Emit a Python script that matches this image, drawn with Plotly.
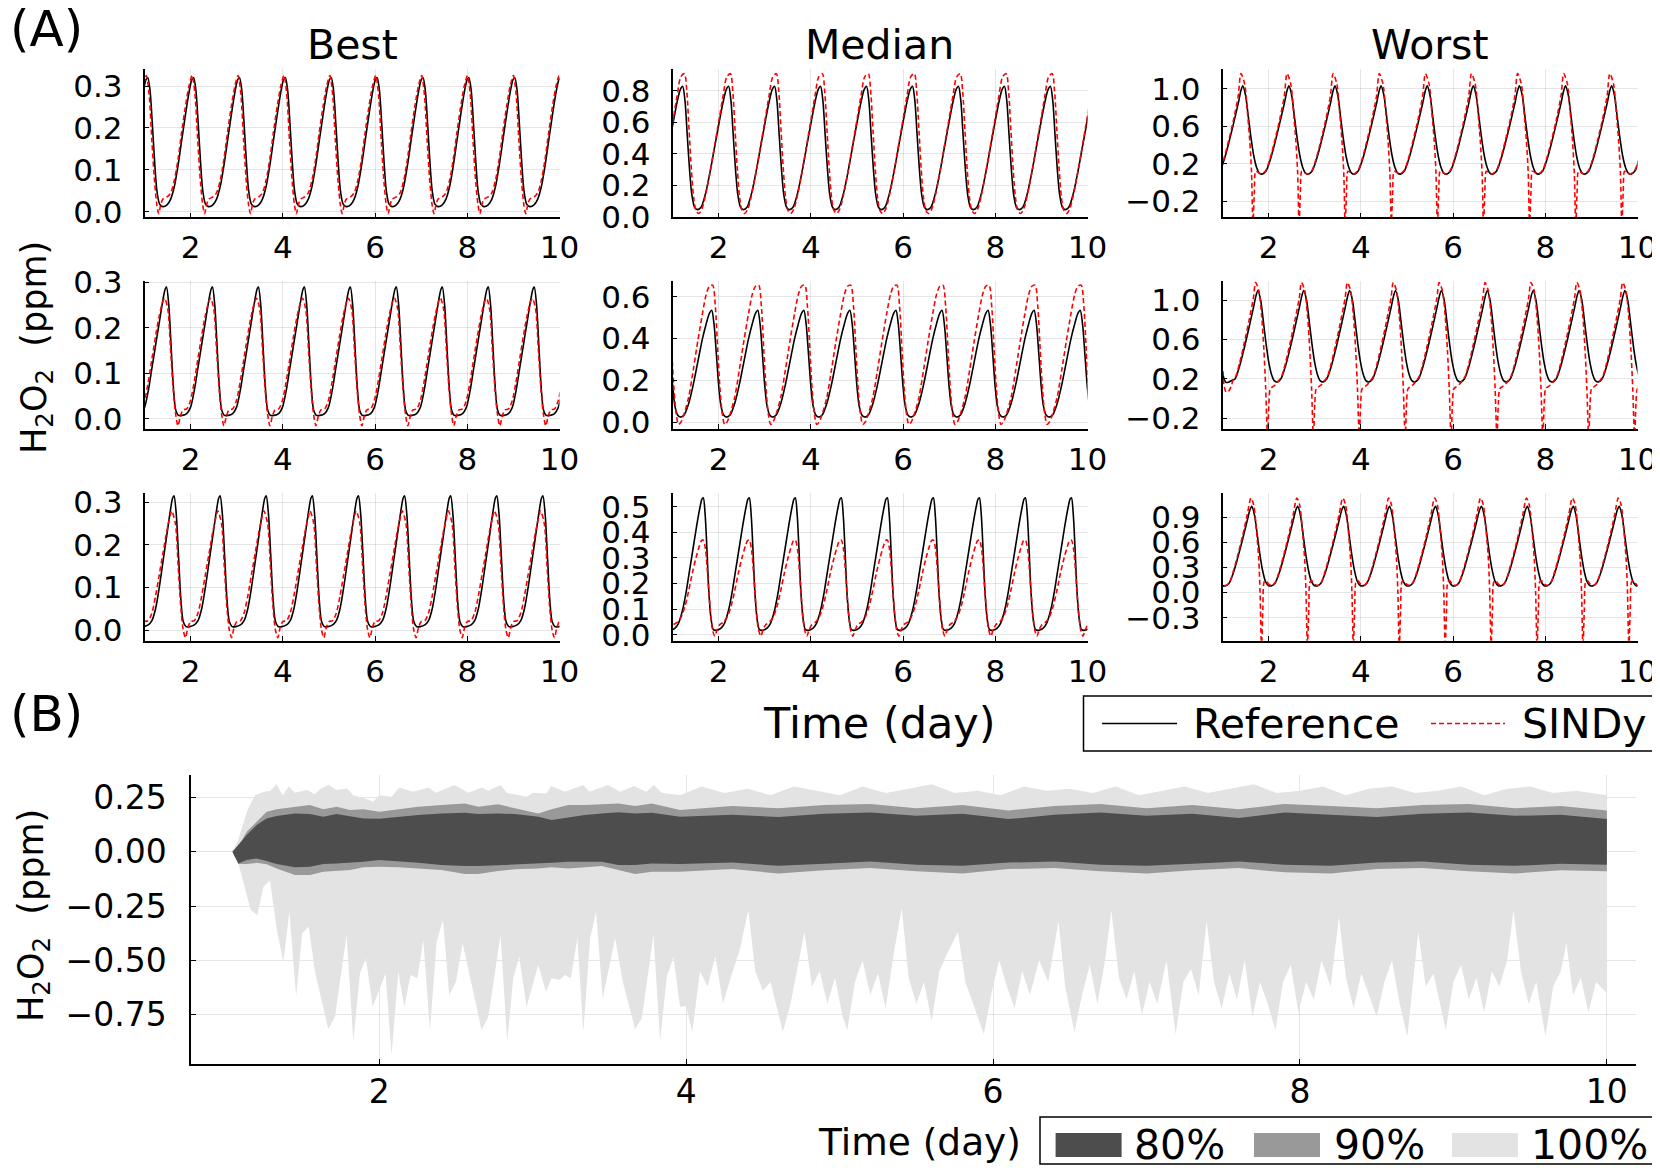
import plotly.graph_objects as go

SCREEN_W, SCREEN_H = 1660, 1173
PAGE_OFFSET = 8  # the page places the figure 8 px in from the top-left corner
W, H = SCREEN_W - PAGE_OFFSET, SCREEN_H - 2 * PAGE_OFFSET

# ---------------- panel (A): one cycle read per series, phase 0 = reference peak ----------------
# Best
BEST1 = dict(period=0.995, peak=1.07,
             ref_p=[0, 0.05, 0.1, 0.15, 0.2, 0.26, 0.33, 0.42, 0.5, 0.58, 0.66, 0.74, 0.82, 0.9, 0.96],
             ref_v=[0.32, 0.29, 0.21, 0.12, 0.05, 0.018, 0.012, 0.016, 0.03, 0.06, 0.11, 0.17, 0.23, 0.285, 0.315],
             sin_p=[-0.03, 0.03, 0.09, 0.15, 0.2, 0.24, 0.28, 0.33, 0.42, 0.5, 0.58, 0.66, 0.74, 0.82, 0.9],
             sin_v=[0.325, 0.28, 0.17, 0.07, 0.015, -0.005, 0.015, 0.03, 0.035, 0.045, 0.075, 0.125, 0.19, 0.25, 0.3])
BEST2 = dict(period=0.997, peak=1.477,
             ref_p=[0, 0.05, 0.1, 0.15, 0.2, 0.26, 0.34, 0.44, 0.52, 0.6, 0.68, 0.76, 0.84, 0.92, 0.97],
             ref_v=[0.29, 0.25, 0.16, 0.07, 0.02, 0.008, 0.008, 0.012, 0.025, 0.06, 0.11, 0.16, 0.21, 0.26, 0.285],
             sin_p=[-0.04, 0.03, 0.09, 0.15, 0.2, 0.25, 0.3, 0.36, 0.44, 0.52, 0.6, 0.68, 0.76, 0.84, 0.92],
             sin_v=[0.265, 0.24, 0.15, 0.06, 0.01, -0.015, 0.005, 0.02, 0.022, 0.04, 0.08, 0.13, 0.18, 0.225, 0.258])
BEST3 = dict(period=1.0, peak=1.64,
             ref_p=[0, 0.05, 0.1, 0.15, 0.2, 0.26, 0.34, 0.44, 0.52, 0.6, 0.68, 0.76, 0.84, 0.92, 0.97],
             ref_v=[0.315, 0.27, 0.17, 0.07, 0.02, 0.008, 0.008, 0.012, 0.022, 0.05, 0.1, 0.16, 0.22, 0.28, 0.31],
             sin_p=[-0.05, 0.03, 0.09, 0.15, 0.2, 0.25, 0.3, 0.36, 0.44, 0.52, 0.6, 0.68, 0.76, 0.84, 0.92],
             sin_v=[0.28, 0.25, 0.15, 0.05, 0.0, -0.018, 0.005, 0.02, 0.022, 0.04, 0.08, 0.13, 0.18, 0.23, 0.27])
# Median
MED1 = dict(period=0.997, peak=1.22,
            ref_p=[0, 0.05, 0.1, 0.15, 0.2, 0.26, 0.32, 0.4, 0.5, 0.6, 0.7, 0.8, 0.88, 0.95],
            ref_v=[0.83, 0.74, 0.52, 0.3, 0.14, 0.06, 0.045, 0.06, 0.15, 0.29, 0.45, 0.61, 0.73, 0.81],
            sin_p=[0.04, 0.09, 0.14, 0.19, 0.24, 0.29, 0.35, 0.42, 0.5, 0.6, 0.7, 0.8, 0.88, 0.96],
            sin_v=[0.91, 0.8, 0.55, 0.3, 0.12, 0.04, 0.02, 0.05, 0.14, 0.29, 0.46, 0.63, 0.77, 0.89])
MED2 = dict(period=0.999, peak=1.85,
            ref_p=[0, 0.05, 0.1, 0.15, 0.2, 0.26, 0.32, 0.4, 0.5, 0.6, 0.7, 0.8, 0.88, 0.95],
            ref_v=[0.535, 0.47, 0.33, 0.18, 0.08, 0.035, 0.025, 0.035, 0.09, 0.18, 0.29, 0.4, 0.47, 0.52],
            sin_p=[0.02, 0.08, 0.13, 0.18, 0.23, 0.28, 0.33, 0.4, 0.5, 0.6, 0.7, 0.8, 0.88, 0.95],
            sin_v=[0.655, 0.55, 0.35, 0.16, 0.04, -0.01, 0.0, 0.04, 0.12, 0.25, 0.39, 0.52, 0.61, 0.65])
MED3 = dict(period=0.998, peak=1.668,
            ref_p=[0, 0.04, 0.08, 0.12, 0.17, 0.22, 0.3, 0.38, 0.46, 0.54, 0.62, 0.7, 0.78, 0.86, 0.93, 0.97],
            ref_v=[0.535, 0.47, 0.33, 0.17, 0.06, 0.02, 0.018, 0.025, 0.045, 0.09, 0.16, 0.25, 0.34, 0.43, 0.5, 0.53],
            sin_p=[0.0, 0.05, 0.1, 0.15, 0.2, 0.25, 0.3, 0.36, 0.44, 0.52, 0.6, 0.68, 0.76, 0.84, 0.92, 0.96],
            sin_v=[0.37, 0.33, 0.22, 0.1, 0.02, -0.005, 0.02, 0.04, 0.05, 0.07, 0.11, 0.17, 0.24, 0.3, 0.35, 0.368])
# Worst
WOR1 = dict(period=1.0, peak=1.44,
            ref_p=[0, 0.06, 0.12, 0.18, 0.24, 0.3, 0.36, 0.42, 0.5, 0.6, 0.7, 0.8, 0.9, 0.96],
            ref_v=[1.03, 0.93, 0.7, 0.47, 0.28, 0.16, 0.1, 0.09, 0.12, 0.25, 0.43, 0.63, 0.84, 0.98],
            sin_p=[-0.04, 0.04, 0.1, 0.15, 0.19, 0.22, 0.25, 0.28, 0.33, 0.4, 0.5, 0.6, 0.7, 0.8, 0.9],
            sin_v=[1.16, 1.05, 0.75, 0.45, 0.1, -0.45, -0.1, 0.12, 0.11, 0.09, 0.13, 0.27, 0.46, 0.67, 0.92])
WOR2 = dict(period=0.995, peak=1.768,
            ref_p=[0, 0.06, 0.12, 0.18, 0.24, 0.3, 0.36, 0.42, 0.5, 0.6, 0.7, 0.8, 0.9, 0.96],
            ref_v=[1.1, 1.0, 0.78, 0.55, 0.36, 0.24, 0.18, 0.17, 0.2, 0.33, 0.51, 0.71, 0.92, 1.05],
            sin_p=[-0.05, 0.02, 0.08, 0.13, 0.17, 0.21, 0.24, 0.27, 0.32, 0.38, 0.45, 0.52, 0.6, 0.7, 0.8, 0.9],
            sin_v=[1.18, 1.1, 0.85, 0.5, 0.1, -0.4, -0.05, 0.1, 0.12, 0.14, 0.18, 0.23, 0.36, 0.56, 0.78, 1.02],
            lead_t=[1.0, 1.04, 1.08, 1.14, 1.2],
            lead_ref=[0.28, 0.19, 0.165, 0.17, 0.185],
            lead_sin=[0.28, 0.12, 0.065, 0.08, 0.14])
WOR3 = dict(period=0.996, peak=1.636,
            ref_p=[0, 0.06, 0.12, 0.18, 0.24, 0.3, 0.36, 0.42, 0.5, 0.6, 0.7, 0.8, 0.9, 0.96],
            ref_v=[1.03, 0.92, 0.68, 0.44, 0.25, 0.13, 0.085, 0.08, 0.11, 0.24, 0.43, 0.64, 0.86, 0.99],
            sin_p=[-0.02, 0.04, 0.1, 0.15, 0.18, 0.21, 0.24, 0.27, 0.31, 0.37, 0.44, 0.52, 0.6, 0.7, 0.8, 0.9],
            sin_v=[1.13, 1.05, 0.75, 0.4, 0.0, -0.65, -0.2, 0.13, 0.14, 0.1, 0.085, 0.13, 0.26, 0.46, 0.68, 0.93])

GRID = [[BEST1, MED1, WOR1], [BEST2, MED2, WOR2], [BEST3, MED3, WOR3]]
COL_TITLES = ["Best", "Median", "Worst"]

Y_RANGES = [[(-0.0135, 0.34), (-0.004, 0.938), (-0.37, 1.206)],
            [(-0.022, 0.303), (-0.032, 0.675), (-0.309, 1.196)],
            [(-0.025, 0.3225), (-0.023, 0.555), (-0.575, 1.194)]]
Y_TICKS = [[[0, 0.1, 0.2, 0.3], [0, 0.2, 0.4, 0.6, 0.8], [-0.2, 0.2, 0.6, 1.0]],
           [[0, 0.1, 0.2, 0.3], [0, 0.2, 0.4, 0.6], [-0.2, 0.2, 0.6, 1.0]],
           [[0, 0.1, 0.2, 0.3], [0, 0.1, 0.2, 0.3, 0.4, 0.5], [-0.3, 0, 0.3, 0.6, 0.9]]]
X_TICKS = [2, 4, 6, 8, 10]

# ---------------- panel (B): envelopes of SINDy - reference error ----------------
U100_T = [1.043, 1.08, 1.14, 1.19, 1.25, 1.29, 1.33, 1.37, 1.41, 1.45, 1.53, 1.58, 1.62, 1.67, 1.72, 1.79, 1.83,
          1.91, 1.96, 2.0, 2.08, 2.13, 2.22, 2.32, 2.37, 2.49, 2.58, 2.67, 2.71, 2.79, 2.83, 2.96, 3.0, 3.09,
          3.12, 3.21, 3.33, 3.37, 3.49, 3.57, 3.66, 3.74, 3.79, 3.84, 3.96,
          4.1, 4.25, 4.4, 4.55, 4.7, 4.85, 5.0, 5.15, 5.3, 5.45, 5.6, 5.75, 5.9, 6.05, 6.2, 6.35, 6.5, 6.65,
          6.8, 6.95, 7.1, 7.25, 7.4, 7.55, 7.7, 7.85, 8.0, 8.15, 8.3, 8.45, 8.6, 8.75, 8.9, 9.05, 9.2, 9.35,
          9.5, 9.65, 9.8, 10.0]
U100_V = [0.0, 0.053, 0.19, 0.26, 0.276, 0.28, 0.311, 0.26, 0.30, 0.271, 0.284, 0.264, 0.291, 0.307, 0.284,
          0.291, 0.26, 0.245, 0.23, 0.26, 0.253, 0.296, 0.276, 0.296, 0.271, 0.307, 0.271, 0.296, 0.28, 0.307,
          0.271, 0.253, 0.271, 0.268, 0.302, 0.276, 0.307, 0.276, 0.307, 0.276, 0.302, 0.276, 0.307, 0.271, 0.26,
          0.30, 0.27, 0.29, 0.26, 0.30, 0.28, 0.26, 0.30, 0.27, 0.29, 0.31, 0.27, 0.28, 0.26, 0.30, 0.28,
          0.29, 0.27, 0.30, 0.26, 0.28, 0.30, 0.27, 0.29, 0.31, 0.27, 0.28, 0.30, 0.26, 0.29, 0.30, 0.27,
          0.28, 0.30, 0.26, 0.29, 0.30, 0.27, 0.28, 0.26]
L100_T = [1.043, 1.082, 1.115, 1.162, 1.205, 1.245, 1.288, 1.332, 1.375, 1.414, 1.458, 1.497, 1.54, 1.581,
          1.668, 1.711, 1.787, 1.831, 1.874, 1.913, 1.957, 2.041, 2.08, 2.124, 2.163, 2.204, 2.248, 2.287,
          2.33, 2.374, 2.415, 2.456, 2.5, 2.543, 2.667, 2.711, 2.79, 2.834, 2.873, 2.912, 2.96, 3.036, 3.086,
          3.123, 3.173, 3.21, 3.248, 3.291, 3.33, 3.374, 3.413, 3.456, 3.537, 3.587, 3.667, 3.711, 3.787,
          3.83, 3.874, 3.917, 3.96,
          4.0, 4.04, 4.09, 4.14, 4.19, 4.24, 4.29, 4.35, 4.405, 4.45, 4.5, 4.55, 4.6, 4.63, 4.68, 4.73, 4.771,
          4.82, 4.87, 4.92, 4.97, 5.02, 5.05, 5.1, 5.15, 5.2, 5.25, 5.3, 5.35, 5.405, 5.45, 5.5, 5.55, 5.6,
          5.65, 5.7, 5.771, 5.82, 5.87, 5.94, 5.99, 6.04, 6.09, 6.14, 6.19, 6.24, 6.3, 6.36, 6.426, 6.47, 6.53,
          6.58, 6.63, 6.68, 6.73, 6.771, 6.82, 6.87, 6.92, 6.97, 7.02, 7.07, 7.13, 7.19, 7.24, 7.29, 7.34,
          7.392, 7.44, 7.49, 7.54, 7.59, 7.64, 7.69, 7.74, 7.79, 7.84, 7.89, 7.94, 7.99, 8.04, 8.09, 8.14, 8.2,
          8.254, 8.3, 8.35, 8.4, 8.45, 8.5, 8.55, 8.6, 8.65, 8.7, 8.771, 8.82, 8.87, 8.92, 8.95, 9.0, 9.05,
          9.1, 9.15, 9.2, 9.25, 9.3, 9.35, 9.392, 9.44, 9.49, 9.54, 9.6, 9.65, 9.7, 9.737, 9.78, 9.83, 9.88,
          9.93, 10.0]
L100_V = [0.0, -0.053, -0.146, -0.268, -0.291, -0.161, -0.133, -0.36, -0.506, -0.276, -0.667, -0.376, -0.345,
          -0.552, -0.817, -0.759, -0.383, -0.874, -0.56, -0.49, -0.713, -0.56, -0.936, -0.552, -0.713, -0.567,
          -0.582, -0.406, -0.823, -0.414, -0.314, -0.659, -0.598, -0.421, -0.82, -0.759, -0.383, -0.874, -0.582,
          -0.483, -0.713, -0.521, -0.644, -0.582, -0.59, -0.567, -0.582, -0.398, -0.828, -0.398, -0.276, -0.675,
          -0.398, -0.598, -0.817, -0.766, -0.383, -0.869, -0.575, -0.483, -0.713,
          -0.71, -0.83, -0.55, -0.62, -0.48, -0.7, -0.58, -0.45, -0.27, -0.55, -0.64, -0.6, -0.74, -0.83, -0.7,
          -0.52, -0.37, -0.62, -0.55, -0.7, -0.58, -0.76, -0.82, -0.6, -0.5, -0.66, -0.56, -0.72, -0.48, -0.26,
          -0.58, -0.7, -0.6, -0.78, -0.55, -0.47, -0.37, -0.6, -0.7, -0.84, -0.65, -0.5, -0.62, -0.72, -0.55,
          -0.66, -0.5, -0.6, -0.32, -0.62, -0.83, -0.66, -0.52, -0.7, -0.5, -0.27, -0.58, -0.68, -0.55, -0.75,
          -0.6, -0.7, -0.5, -0.84, -0.6, -0.54, -0.66, -0.32, -0.6, -0.72, -0.56, -0.68, -0.5, -0.76, -0.6,
          -0.7, -0.82, -0.6, -0.52, -0.74, -0.6, -0.68, -0.5, -0.62, -0.3, -0.58, -0.72, -0.56, -0.66, -0.76,
          -0.6, -0.5, -0.7, -0.85, -0.37, -0.62, -0.56, -0.72, -0.82, -0.6, -0.52, -0.68, -0.58, -0.74, -0.55,
          -0.62, -0.5, -0.27, -0.55, -0.7, -0.6, -0.85, -0.62, -0.55, -0.42, -0.66, -0.58, -0.74, -0.6, -0.65]
U90_T = [1.043, 1.082, 1.136, 1.201, 1.266, 1.331, 1.45, 1.548, 1.635, 1.722, 1.809, 1.896, 2.0, 2.124,
         2.254, 2.406, 2.558, 2.645, 2.775, 2.884, 3.036, 3.123, 3.232, 3.34, 3.449, 3.558, 3.667, 3.776, 3.96,
         4.3, 4.6, 4.9, 5.2, 5.5, 5.8, 6.1, 6.4, 6.7, 7.0, 7.3, 7.6, 7.9, 8.2, 8.5, 8.8, 9.1, 9.4, 9.7, 10.0]
U90_V = [0.0, 0.023, 0.092, 0.138, 0.184, 0.195, 0.207, 0.215, 0.195, 0.207, 0.192, 0.195, 0.184, 0.195,
         0.207, 0.215, 0.222, 0.207, 0.218, 0.2, 0.176, 0.195, 0.215, 0.215, 0.219, 0.222, 0.21, 0.222, 0.192,
         0.21, 0.2, 0.215, 0.22, 0.2, 0.215, 0.19, 0.21, 0.22, 0.2, 0.215, 0.195, 0.22, 0.21, 0.2, 0.215,
         0.22, 0.2, 0.21, 0.19]
L90_T = U90_T
L90_V = [0.0, -0.057, -0.057, -0.051, -0.058, -0.077, -0.107, -0.107, -0.092, -0.087, -0.084, -0.072, -0.069,
         -0.072, -0.077, -0.084, -0.103, -0.103, -0.089, -0.081, -0.077, -0.072, -0.077, -0.072, -0.066, -0.084,
         -0.103, -0.092, -0.092,
         -0.08, -0.1, -0.085, -0.075, -0.09, -0.1, -0.08, -0.075, -0.09, -0.1, -0.085, -0.075, -0.095, -0.1,
         -0.08, -0.075, -0.09, -0.1, -0.085, -0.09]
U80_T = U90_T
U80_V = [0.0, 0.031, 0.077, 0.123, 0.153, 0.164, 0.176, 0.173, 0.161, 0.173, 0.164, 0.153, 0.152, 0.161,
         0.169, 0.176, 0.179, 0.173, 0.176, 0.173, 0.161, 0.146, 0.158, 0.169, 0.176, 0.181, 0.176, 0.179, 0.161,
         0.17, 0.16, 0.175, 0.18, 0.165, 0.175, 0.15, 0.17, 0.18, 0.165, 0.175, 0.155, 0.18, 0.17, 0.16, 0.175,
         0.18, 0.165, 0.17, 0.15]
L80_T = U90_T
L80_V = [0.0, -0.054, -0.038, -0.031, -0.043, -0.057, -0.072, -0.069, -0.057, -0.054, -0.051, -0.046, -0.038,
         -0.046, -0.051, -0.061, -0.066, -0.066, -0.061, -0.057, -0.054, -0.051, -0.046, -0.046, -0.046, -0.061,
         -0.061, -0.054, -0.057,
         -0.05, -0.065, -0.055, -0.045, -0.06, -0.065, -0.05, -0.045, -0.06, -0.065, -0.055, -0.045, -0.06,
         -0.065, -0.05, -0.045, -0.06, -0.065, -0.055, -0.06]

BAND_NAMES = ["100%", "90%", "80%"]
BAND_COLORS = ["#e3e3e3", "#999999", "#4d4d4d"]

# ---------------- geometry (pixels, as seen on screen) ----------------
COL_L = [144.5, 672.5, 1222.5]
COL_R = [559.5, 1087.5, 1637.5]
ROW_T = [69.3, 281.0, 492.7]
ROW_B = [217.3, 429.0, 640.7]
B_BOX = (191, 1636, 775, 1064)

FONT = "DejaVu Sans"
GRID_C = "rgba(0,0,0,0.10)"


def px(x):
    return (x - PAGE_OFFSET) / W


def py(y):
    return 1 - (y - PAGE_OFFSET) / H


def tile(d, which):
    phase, vals = d[which + "_p"], d[which + "_v"]
    xs, ys = [], []
    lead = d.get("lead_t")
    if lead:
        xs += lead
        ys += d["lead_" + ("ref" if which == "ref" else "sin")]
    t_min = lead[-1] if lead else 0.8
    for k in range(-2, 11):
        for p, v in zip(phase, vals):
            t = d["peak"] + (k + p) * d["period"]
            if t_min < t <= 10.2:
                xs.append(t)
                ys.append(v)
    return xs, ys


def fmt(v, nd):
    s = f"{abs(v):.{nd}f}"
    return ("\u2212" + s) if v < 0 else s


fig = go.Figure()
layout = {}

n = 0
for r in range(3):
    for c in range(3):
        n += 1
        d = GRID[r][c]
        xa, ya = f"x{n}", f"y{n}"
        rx, ry = tile(d, "ref")
        sx, sy = tile(d, "sin")
        fig.add_trace(go.Scatter(x=rx, y=ry, mode="lines", xaxis=xa, yaxis=ya, showlegend=False,
                                 line=dict(color="black", width=1.6, shape="spline", smoothing=0.8)))
        fig.add_trace(go.Scatter(x=sx, y=sy, mode="lines", xaxis=xa, yaxis=ya, showlegend=False,
                                 line=dict(color="#ff0000", width=1.6, dash="5px,3px", shape="spline",
                                           smoothing=0.8)))
        yt = Y_TICKS[r][c]
        layout[f"xaxis{n}"] = dict(domain=[px(COL_L[c]), px(COL_R[c])], anchor=ya, range=[1, 10],
                                   tickvals=X_TICKS, ticktext=[str(v) for v in X_TICKS])
        layout[f"yaxis{n}"] = dict(domain=[py(ROW_B[r]), py(ROW_T[r])], anchor=xa, range=list(Y_RANGES[r][c]),
                                   tickvals=yt, ticktext=[fmt(v, 1) for v in yt])

# panel B
n += 1
xa, ya = f"x{n}", f"y{n}"
bands = [(U100_T, U100_V, L100_T, L100_V), (U90_T, U90_V, L90_T, L90_V), (U80_T, U80_V, L80_T, L80_V)]
for (ut, uv, lt, lv), name, col in zip(bands, BAND_NAMES, BAND_COLORS):
    fig.add_trace(go.Scatter(x=list(ut) + list(lt)[::-1], y=list(uv) + list(lv)[::-1], mode="lines",
                             fill="toself", fillcolor=col, line=dict(width=0, color=col), name=name,
                             xaxis=xa, yaxis=ya, showlegend=False, hoverinfo="skip"))
bt = [0.25, 0, -0.25, -0.5, -0.75]
layout[f"xaxis{n}"] = dict(domain=[px(B_BOX[0]), px(B_BOX[1])], anchor=ya, range=[0.773, 10.19],
                           tickvals=X_TICKS, ticktext=[str(v) for v in X_TICKS],
                           tickfont=dict(size=33), ticklabelstandoff=-2)
layout[f"yaxis{n}"] = dict(domain=[py(B_BOX[3]), py(B_BOX[2])], anchor=xa, range=[-0.977, 0.353],
                           tickvals=bt, ticktext=[fmt(v, 2) for v in bt], tickfont=dict(size=33),
                           ticklabelstandoff=16)

for k, v in layout.items():
    base = dict(showline=True, linecolor="black", linewidth=1.5, mirror=False, ticks="inside", ticklen=5,
                tickcolor="black", tickwidth=1, showgrid=True, gridcolor=GRID_C, gridwidth=1, zeroline=False,
                fixedrange=True, automargin=False, ticklabeloverflow="allow")
    if k.startswith("x"):
        base.update(tickfont=dict(size=31), ticklabelstandoff=2)
    else:
        base.update(tickfont=dict(size=31), ticklabelstandoff=14)
    base.update(v)
    layout[k] = base

ann = []
for c, t in enumerate(COL_TITLES):
    ann.append(dict(text=t, x=px((COL_L[c] + COL_R[c]) / 2), y=py(45), font=dict(size=41)))
ann += [
    dict(text="(A)", x=px(8), y=py(29), xanchor="left", font=dict(size=50)),
    dict(text="(B)", x=px(8), y=py(714), xanchor="left", font=dict(size=50)),
    dict(text="Time (day)", x=px(879), y=py(723), font=dict(size=43)),
    dict(text="Time (day)", x=px(919), y=py(1142), font=dict(size=37.5)),
    dict(text="H<sub>2</sub>O<sub>2</sub>  (ppm)", x=px(36), y=py(348), textangle=-90, font=dict(size=35)),
    dict(text="H<sub>2</sub>O<sub>2</sub>  (ppm)", x=px(33), y=py(916), textangle=-90, font=dict(size=35)),
    dict(text="Reference", x=px(1191), y=py(724), xanchor="left", font=dict(size=41)),
    dict(text="SINDy", x=px(1520), y=py(724), xanchor="left", font=dict(size=41)),
    dict(text="80%", x=px(1132), y=py(1145), xanchor="left", font=dict(size=41)),
    dict(text="90%", x=px(1332), y=py(1145), xanchor="left", font=dict(size=41)),
    dict(text="100%", x=px(1529), y=py(1145), xanchor="left", font=dict(size=41)),
]
for a in ann:
    a.setdefault("xanchor", "center")
    a.update(xref="paper", yref="paper", yanchor="middle", showarrow=False)
    a["font"].update(family=FONT, color="black")

B_EDGE = SCREEN_H - PAGE_OFFSET - 1
shapes = [
    dict(type="rect", x0=px(1083.5), x1=px(1658), y0=py(751), y1=py(696), line=dict(color="black", width=1.5)),
    dict(type="line", x0=px(1102), x1=px(1177), y0=py(723.5), y1=py(723.5), line=dict(color="black", width=1.6)),
    dict(type="line", x0=px(1431), x1=px(1505), y0=py(723.5), y1=py(723.5),
         line=dict(color="#ff0000", width=1.6, dash="5px,3px")),
    dict(type="rect", x0=px(1040), x1=px(1657), y0=py(B_EDGE), y1=py(1117), line=dict(color="black", width=1.5)),
]
for x0, col in zip([1055.6, 1254, 1452], BAND_COLORS[::-1]):
    shapes.append(dict(type="rect", x0=px(x0), x1=px(x0 + 66), y0=py(1157), y1=py(1133),
                       line=dict(width=0), fillcolor=col))
for s in shapes:
    s.update(xref="paper", yref="paper")

fig.update_layout(template="none", width=W, height=H, margin=dict(l=0, r=0, t=0, b=0, autoexpand=False),
                  paper_bgcolor="white", plot_bgcolor="white", font=dict(family=FONT, color="black"),
                  annotations=ann, shapes=shapes, **layout)

fig.write_html("out.html")
